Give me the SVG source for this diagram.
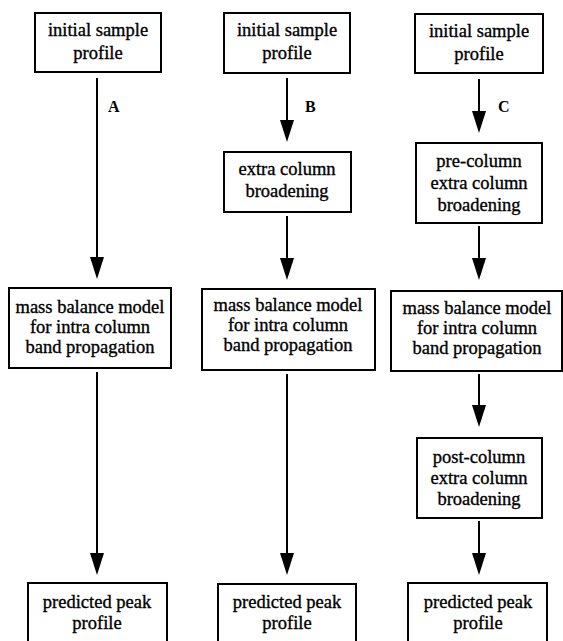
<svg xmlns="http://www.w3.org/2000/svg" width="563" height="641" viewBox="0 0 563 641">
<style>
.box{fill:#fff;stroke:#000;stroke-width:2}
.t{font-family:"Liberation Serif","Times New Roman",serif;font-size:18.5px;fill:#000;stroke:#000;stroke-width:0.35;text-anchor:middle}
.lbl{font-family:"Liberation Serif","Times New Roman",serif;font-size:16px;font-weight:bold;fill:#000}
.ln{stroke:#000;stroke-width:2;fill:none}
.ah{fill:#000}
</style>
<rect width="563" height="641" fill="#fff"/>
<g id="connectors">
  <line class="ln" x1="97" y1="78" x2="97" y2="262"/><polygon class="ah" points="90,257 104,257 97,279"/>
  <line class="ln" x1="97" y1="372" x2="97" y2="558"/><polygon class="ah" points="90,553 104,553 97,575"/>
  <line class="ln" x1="287" y1="78" x2="287" y2="125"/><polygon class="ah" points="280,120 294,120 287,142"/>
  <line class="ln" x1="287" y1="216" x2="287" y2="263"/><polygon class="ah" points="280,258 294,258 287,280"/>
  <line class="ln" x1="287" y1="374" x2="287" y2="558"/><polygon class="ah" points="280,553 294,553 287,575"/>
  <line class="ln" x1="479" y1="79" x2="479" y2="116"/><polygon class="ah" points="472,111 486,111 479,133"/>
  <line class="ln" x1="479" y1="226" x2="479" y2="263"/><polygon class="ah" points="472,258 486,258 479,280"/>
  <line class="ln" x1="479" y1="374" x2="479" y2="410"/><polygon class="ah" points="472,405 486,405 479,427"/>
  <line class="ln" x1="479" y1="521" x2="479" y2="558"/><polygon class="ah" points="472,553 486,553 479,575"/>
  <text class="lbl" x="108" y="112">A</text>
  <text class="lbl" x="305" y="112">B</text>
  <text class="lbl" x="498" y="112">C</text>
</g>
<g id="a-initial"><rect class="box" x="35" y="13" width="126" height="59"/><text class="t" x="98" y="36">initial sample</text><text class="t" x="98" y="59">profile</text></g>
<g id="b-initial"><rect class="box" x="224" y="13" width="126" height="60"/><text class="t" x="287" y="36">initial sample</text><text class="t" x="287" y="59">profile</text></g>
<g id="c-initial"><rect class="box" x="415" y="14" width="128" height="59"/><text class="t" x="479" y="37">initial sample</text><text class="t" x="479" y="60">profile</text></g>

<g id="b-extra"><rect class="box" x="224" y="152" width="127" height="60"/><text class="t" x="287" y="175">extra column</text><text class="t" x="287" y="197">broadening</text></g>
<g id="c-pre"><rect class="box" x="416" y="143" width="126" height="80"/><text class="t" x="479" y="167">pre-column</text><text class="t" x="479" y="189">extra column</text><text class="t" x="479" y="211">broadening</text></g>

<g id="a-mass"><rect class="box" x="9" y="288" width="162" height="80"/><text class="t" x="90" y="313">mass balance model</text><text class="t" x="90" y="333">for intra column</text><text class="t" x="90" y="353">band propagation</text></g>
<g id="b-mass"><rect class="box" x="202" y="289" width="173" height="81"/><text class="t" x="288" y="311">mass balance model</text><text class="t" x="288" y="331">for intra column</text><text class="t" x="288" y="351">band propagation</text></g>
<g id="c-mass"><rect class="box" x="391" y="291" width="171" height="80"/><text class="t" x="477" y="314">mass balance model</text><text class="t" x="477" y="334">for intra column</text><text class="t" x="477" y="354">band propagation</text></g>

<g id="c-post"><rect class="box" x="417" y="438" width="125" height="80"/><text class="t" x="479" y="463">post-column</text><text class="t" x="479" y="484">extra column</text><text class="t" x="479" y="505">broadening</text></g>

<g id="a-pred"><rect class="box" x="28" y="583" width="139" height="60"/><text class="t" x="97" y="608">predicted peak</text><text class="t" x="97" y="629">profile</text></g>
<g id="b-pred"><rect class="box" x="218" y="584" width="138" height="59"/><text class="t" x="287" y="608">predicted peak</text><text class="t" x="287" y="629">profile</text></g>
<g id="c-pred"><rect class="box" x="408" y="583" width="139" height="60"/><text class="t" x="478" y="608">predicted peak</text><text class="t" x="478" y="629">profile</text></g>
</svg>
